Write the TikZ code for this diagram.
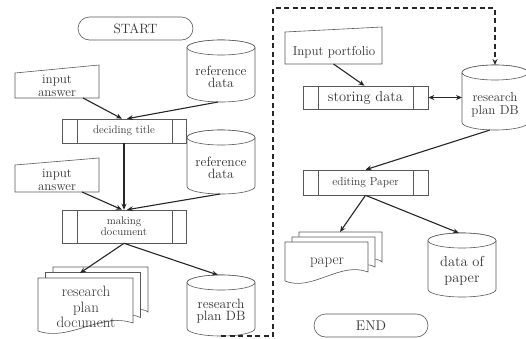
\documentclass[tikz,border=0pt]{standalone}
\usetikzlibrary{arrows.meta,shapes.misc,calc}
\newcommand\fs[2]{\fontsize{#1}{#2}\selectfont}
% cylinder: name, L, T, R, B
\newcommand\Cyl[5]{%
  \pgfmathsetmacro\cxm{(#2+#4)/2}%
  \pgfmathsetmacro\crx{(#4-#2)/2}%
  \pgfmathsetmacro\cym{(#3+#5)/2}%
  \draw[shp] ({#2},{#3+7.5}) -- ({#2},{#5-7.5})
     arc[start angle=180,end angle=0,x radius=\crx,y radius=7.5]
     -- ({#4},{#3+7.5}) arc[start angle=0,end angle=-180,x radius=\crx,y radius=7.5] -- cycle;
  \draw[shp] (\cxm,{#3+7.5}) ellipse[x radius=\crx,y radius=7.5];
  \node[bbox,minimum width={(#4-#2)*1pt},minimum height={(#5-#3)*1pt}] (#1) at (\cxm,\cym) {};
}
% manual input: name, L, Tleft, Tright, R, B
\newcommand\ManIn[6]{%
  \pgfmathsetmacro\cxm{(#2+#5)/2}%
  \pgfmathsetmacro\ctop{min(#3,#4)}%
  \pgfmathsetmacro\cym{(\ctop+#6)/2}%
  \draw[shp] ({#2},{#6}) -- ({#5},{#6}) -- ({#5},{#4}) -- ({#2},{#3}) -- cycle;
  \node[bbox,minimum width={(#5-#2)*1pt},minimum height={(#6-\ctop)*1pt}] (#1) at (\cxm,\cym) {};
}
% one document page: L, T, R, Bleft, Bright
\newcommand\DocPage[5]{%
  \pgfmathsetmacro\wa{#1+0.33*(#3-#1)}%
  \pgfmathsetmacro\wb{#1+0.66*(#3-#1)}%
  \draw[shp] ({#1},{#2}) -- ({#1},{#4}) .. controls (\wa,{#4+11}) and (\wb,{#5-11}) .. ({#3},{#5}) -- ({#3},{#2}) -- cycle;
}
% stack: name, L, T, R, Bleft, Bright, dx, dy
\newcommand\DocStack[8]{%
  \DocPage{#2+2*#7}{#3-2*#8}{#4+2*#7}{#5-2*#8}{#6-2*#8}%
  \DocPage{#2+#7}{#3-#8}{#4+#7}{#5-#8}{#6-#8}%
  \DocPage{#2}{#3}{#4}{#5}{#6}%
  \pgfmathsetmacro\cxm{(#2+#4)/2}%
  \pgfmathsetmacro\cym{(#3+#5)/2}%
  \node[bbox,minimum width={(#4-#2)*1pt},minimum height={(#5-#3)*1pt}] (#1) at (\cxm,\cym) {};
}
\begin{document}
\begin{tikzpicture}[x=1pt,y=-1pt,
  shp/.style={draw=black!65,line width=0.6pt,fill=white},
  bbox/.style={draw=none,inner sep=0pt,outer sep=0pt},
  txt/.style={text=black!80,align=center,inner sep=0pt},
  proc/.style={draw=black!65,line width=0.6pt,fill=white,text=black!80,align=center,inner sep=0pt},
  term/.style={draw=black!65,line width=0.6pt,fill=white,rounded rectangle,text=black!80,inner sep=0pt},
  arr/.style={draw=black!85,line width=1.1pt,-{Stealth[length=6pt,width=5pt]}},
  darr/.style={draw=black!85,line width=1.1pt,{Stealth[length=6pt,width=5pt]}-{Stealth[length=6pt,width=5pt]}},
  dsh/.style={draw=black!85,line width=1.5pt,dash pattern=on 5pt off 3.5pt,-{Stealth[length=6pt,width=5pt,open]}}
]
\useasboundingbox[fill=white] (0,0) rectangle (526,338);

% ---------- left column ----------
\node[term,minimum width=115pt,minimum height=23pt,font=\fs{13.5}{14}] (start) at (135.5,28.5) {START};

\ManIn{ans1}{15}{73}{65}{99}{98}
\node[txt,font=\fs{13}{12.5}] (ans1t) at (57,86) {input\\answer};

\Cyl{ref1}{187}{40}{255}{102}
\node[txt,font=\fs{13.5}{12.5}] (ref1t) at (221,77) {reference\\data};

\node[proc,minimum width=124pt,minimum height=24pt,font=\fs{11}{12}] (title) at (124,131) {deciding title};
\draw[draw=black!65,line width=0.6pt] ([xshift=16pt]title.north west) -- ([xshift=16pt]title.south west)
  ([xshift=-14pt]title.north east) -- ([xshift=-14pt]title.south east);

\Cyl{ref2}{187}{130}{255}{194}
\node[txt,font=\fs{13.5}{12.5}] (ref2t) at (221,168) {reference\\data};

\ManIn{ans2}{15}{165}{158}{99}{192}
\node[txt,font=\fs{13}{12.5}] (ans2t) at (57,180) {input\\answer};

\node[proc,minimum width=124pt,minimum height=33pt,font=\fs{11}{11}] (making) at (124,226.5) {making\\document};
\draw[draw=black!65,line width=0.6pt] ([xshift=16pt]making.north west) -- ([xshift=16pt]making.south west)
  ([xshift=-14pt]making.north east) -- ([xshift=-14pt]making.south east);

\DocStack{doc}{38}{278}{133}{331}{323}{7.5}{5.5}
\node[txt,font=\fs{15}{15.5}] (doct) at (86,307) {research\\plan\\document};

\Cyl{ldb}{187}{275}{255}{336}
\node[txt,font=\fs{13.5}{12.5}] (ldbt) at (221,311) {research\\plan DB};

% ---------- right column ----------
\ManIn{inport}{285}{32}{27}{382}{64}
\node[txt,font=\fs{13}{14}] (inportt) at (334,52) {Input portfolio};

\node[proc,minimum width=125pt,minimum height=23pt,font=\fs{14.5}{15}] (storing) at (365.5,97.5) {storing data};
\draw[draw=black!65,line width=0.6pt] ([xshift=16pt]storing.north west) -- ([xshift=16pt]storing.south west)
  ([xshift=-15pt]storing.north east) -- ([xshift=-15pt]storing.south east);

\Cyl{rdb}{462}{65}{528}{130}
\node[txt,font=\fs{13}{12.5}] (rdbt) at (495,104.5) {research\\plan DB};

\node[proc,minimum width=125pt,minimum height=25pt,font=\fs{11.5}{12}] (editing) at (365.5,182.5) {editing Paper};
\draw[draw=black!65,line width=0.6pt] ([xshift=16pt]editing.north west) -- ([xshift=16pt]editing.south west)
  ([xshift=-15pt]editing.north east) -- ([xshift=-15pt]editing.south east);

\DocStack{paper}{285}{242}{368}{281}{272}{7}{5}
\node[txt,font=\fs{15}{15}] (papert) at (327,263) {paper};

\Cyl{dop}{428}{233}{496}{297}
\node[txt,font=\fs{14.5}{16}] (dopt) at (462,271) {data of\\paper};

\node[term,minimum width=114pt,minimum height=23pt,font=\fs{14}{14}] (end) at (371,325.5) {END};

% ---------- connectors ----------
\draw[arr] ([xshift=26pt]ans1.south) -- ([xshift=-2pt]title.north);
\draw[arr] ([xshift=-3pt]ref1.south) -- ([xshift=3pt]title.north);
\draw[arr] (title.south) -- (making.north);
\draw[arr] ([xshift=25pt]ans2.south) -- ([xshift=-2pt]making.north);
\draw[arr] ([xshift=-1pt]ref2.south) -- ([xshift=3pt]making.north);
\draw[arr] (making.south) -- ([xshift=-5.5pt,yshift=5pt]doc.north);
\draw[arr] (making.south) -- ([xshift=-3pt]ldb.north);

\coordinate (d1) at (273,336);
\coordinate (d2) at (273,8);
\draw[dsh] (ldb.south) -- (ldb.south -| d1) -- (d2) -- (d2 -| rdb.north) -- (rdb.north);

\draw[arr] (inport.south) -- ([xshift=-1pt]storing.north);
\draw[darr] (storing.east) -- (rdb.west);
\draw[arr] ([xshift=-5pt]rdb.south) -- (editing.north);
\draw[arr] (editing.south) -- ([xshift=13.5pt,yshift=10pt]paper.north);
\draw[arr] (editing.south) -- ([xshift=-3pt]dop.north);
\end{tikzpicture}
\end{document}
